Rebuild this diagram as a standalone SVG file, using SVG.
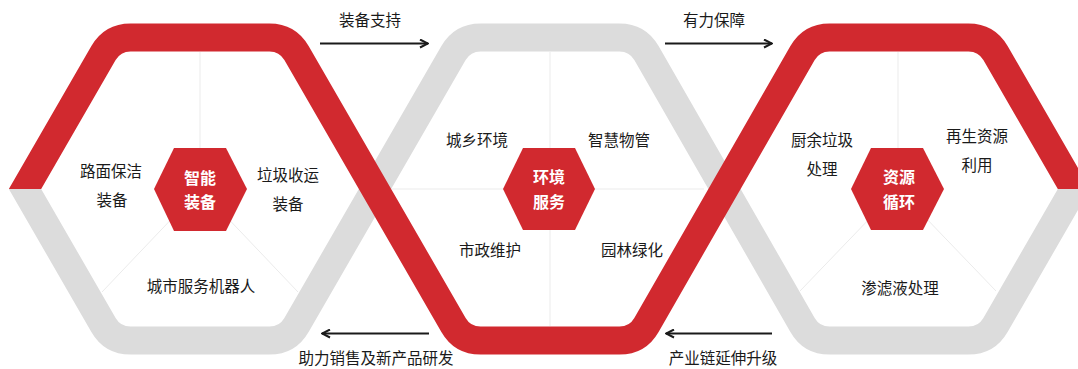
<svg xmlns="http://www.w3.org/2000/svg" width="1078" height="369" viewBox="0 0 1078 369">
<style>
.spoke{stroke:#ebebeb;stroke-width:1;fill:none}
.ring{fill:none;stroke-width:28;stroke-linejoin:miter}
.hexc{fill:#d1292f}
.ct{font-family:"Noto Sans CJK SC","Noto Sans",sans-serif;font-size:16px;font-weight:bold;fill:#ffffff;text-anchor:middle}
.lb{font-family:"Noto Sans CJK SC","Noto Sans",sans-serif;font-size:15.5px;fill:#1a1a1a;text-anchor:middle}
.arr{stroke:#1a1a1a;stroke-width:2;fill:none}
</style>
<defs>
<marker id="ah" viewBox="0 0 10 10" refX="9" refY="5" markerWidth="10" markerHeight="10" markerUnits="userSpaceOnUse" orient="auto">
<path d="M1,1 L9,5 L1,9" fill="none" stroke="#1a1a1a" stroke-width="2"/>
</marker>
<clipPath id="clipRed"><polygon points="0,0 1078,0 1078,189 1000,189 1000,369 80,369 80,189 0,189"/></clipPath>
<clipPath id="clipGray"><polygon points="0,189 80,189 80,0 1000,0 1000,189 1078,189 1078,369 0,369"/></clipPath>
</defs>
<rect width="1078" height="369" fill="#ffffff"/>
<g id="spokes">
<line class="spoke" x1="200" y1="52" x2="200" y2="189"/>
<line class="spoke" x1="200" y1="189" x2="102" y2="292"/>
<line class="spoke" x1="200" y1="189" x2="298" y2="292"/>
<line class="spoke" x1="550" y1="52" x2="550" y2="326"/>
<line class="spoke" x1="392" y1="189" x2="704" y2="189"/>
<line class="spoke" x1="898" y1="52" x2="898" y2="189"/>
<line class="spoke" x1="898" y1="189" x2="800" y2="291"/>
<line class="spoke" x1="898" y1="189" x2="996" y2="291"/>
</g>
<g id="rings">
<path class="ring" stroke="#dcdcdc" clip-path="url(#clipGray)" d="M35,171.68 L25,189 L103.5,324.96 Q112.5,340.55 130.5,340.55 L269.5,340.55 Q287.5,340.55 296.5,324.96 L453.5,53.04 Q462.5,37.45 480.5,37.45 L619.5,37.45 Q637.5,37.45 646.46,53.06 L802.54,324.94 Q811.5,340.55 829.5,340.55 L968.5,340.55 Q986.5,340.55 995.5,324.96 L1074,189 L1064,171.68"/>
<path class="ring" stroke="#d1292f" clip-path="url(#clipRed)" d="M35,206.32 L25,189 L103.5,53.04 Q112.5,37.45 130.5,37.45 L269.5,37.45 Q287.5,37.45 296.5,53.04 L453.5,324.96 Q462.5,340.55 480.5,340.55 L619.5,340.55 Q637.5,340.55 646.46,324.94 L802.54,53.06 Q811.5,37.45 829.5,37.45 L968.5,37.45 Q986.5,37.45 995.5,53.04 L1074,189 L1064,206.32"/>
</g>
<g id="node-zhineng">
<polygon class="hexc" points="154,189 174,148 226,148 247,189 226,231 174,231"/>
<text class="ct" x="200" y="184">智能</text>
<text class="ct" x="200" y="208">装备</text>
<text class="lb" x="111" y="177">路面保洁</text>
<text class="lb" x="112" y="206">装备</text>
<text class="lb" x="288" y="181">垃圾收运</text>
<text class="lb" x="288" y="210">装备</text>
<text class="lb" x="201" y="292">城市服务机器人</text>
</g>
<g id="node-huanjing">
<polygon class="hexc" points="503,189 523,148 575,148 595,189 575,230 523,230"/>
<text class="ct" x="549" y="183">环境</text>
<text class="ct" x="549" y="208">服务</text>
<text class="lb" x="477" y="146">城乡环境</text>
<text class="lb" x="619" y="146">智慧物管</text>
<text class="lb" x="490" y="256">市政维护</text>
<text class="lb" x="632" y="256">园林绿化</text>
</g>
<g id="node-ziyuan">
<polygon class="hexc" points="851,189 871,148 923,148 944,189 923,230 871,230"/>
<text class="ct" x="899" y="183">资源</text>
<text class="ct" x="899" y="208">循环</text>
<text class="lb" x="822" y="146">厨余垃圾</text>
<text class="lb" x="822" y="175">处理</text>
<text class="lb" x="977" y="142">再生资源</text>
<text class="lb" x="977" y="171">利用</text>
<text class="lb" x="900" y="294">渗滤液处理</text>
</g>
<g id="connectors">
<line class="arr" x1="320" y1="43.5" x2="428" y2="43.5" marker-end="url(#ah)"/>
<line class="arr" x1="665" y1="43.5" x2="772" y2="43.5" marker-end="url(#ah)"/>
<line class="arr" x1="429" y1="333.5" x2="322" y2="333.5" marker-end="url(#ah)"/>
<line class="arr" x1="772" y1="333.5" x2="666" y2="333.5" marker-end="url(#ah)"/>
<text class="lb" x="370" y="26">装备支持</text>
<text class="lb" x="714" y="26">有力保障</text>
<text class="lb" x="376" y="364">助力销售及新产品研发</text>
<text class="lb" x="723" y="364">产业链延伸升级</text>
</g>
</svg>
